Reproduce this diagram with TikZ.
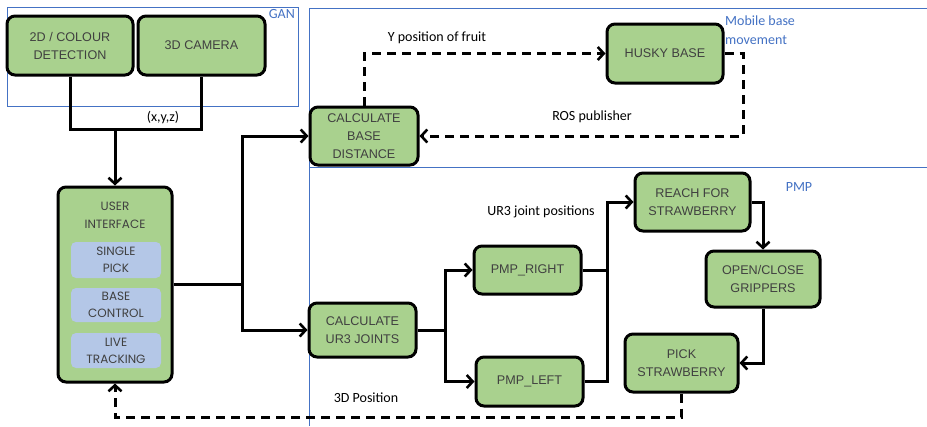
\documentclass[tikz,border=0pt]{standalone}
\usepackage{fontspec}
\setmainfont{Liberation Sans}
\newfontfamily\lblfont{Carlito}
\newfontfamily\uifont{Poppins}
\usetikzlibrary{arrows.meta,calc}
\definecolor{boxgreen}{HTML}{A9D18E}
\definecolor{boxblue}{HTML}{B4C7E7}
\definecolor{frameblue}{HTML}{4472C4}
\definecolor{boxtext}{HTML}{404040}
\begin{document}
\begin{tikzpicture}[x=1pt,y=-1pt,
  gbox/.style={draw=black,line width=3pt,rounded corners=8pt,fill=boxgreen,
    text=boxtext,font=\fontsize{12.6}{18}\selectfont,align=center,inner sep=0pt},
  bbox/.style={fill=boxblue,rounded corners=5pt,text=boxtext,
    font=\uifont\fontsize{12}{17}\selectfont,align=center,inner sep=0pt,
    minimum width=90pt},
  conn/.style={line width=3pt,draw=black},
  tip/.style={-{Straight Barb[length=6pt,width=13pt,line width=2.6pt]}},
  arr/.style={conn,tip},
  dconn/.style={conn,dash pattern=on 9pt off 6pt},
  frame/.style={draw=frameblue,line width=1pt},
  lbl/.style={font=\lblfont\fontsize{14}{16}\selectfont,text=black,inner sep=0pt},
  blbl/.style={font=\lblfont\fontsize{14}{19}\selectfont,text=frameblue,inner sep=0pt,align=left}
]
\useasboundingbox (0,0) rectangle (927,426);
\fill[white] (0,0) rectangle (927,426);
% frames
\draw[frame] (7,7) rectangle (298,106);
\draw[frame] (927,8) -- (309,8) -- (309,426);
\draw[frame] (309,167) -- (927,167);
\node[blbl,anchor=north east] (gan) at (295,9) {GAN};
\node[blbl,anchor=north west] (mob) at (725,16) {Mobile base\\movement};
\node[blbl] (pmp) at (799,187) {PMP};

% boxes
\node[gbox,minimum width=126pt,minimum height=59pt] (det) at (70,45.5) {2D / COLOUR\\DETECTION};
\node[gbox,minimum width=127pt,minimum height=59pt] (cam) at (201.5,45.5) {3D CAMERA};
\node[gbox,minimum width=114pt,minimum height=195pt] (ui) at (115,284.5) {};
\node[text=boxtext,font=\uifont\fontsize{12}{18}\selectfont,align=center] (uit) at (115,215) {USER\\INTERFACE};
\node[bbox,minimum height=36pt] (sp) at (116,260) {SINGLE\\PICK};
\node[bbox,minimum height=34pt] (bc) at (116,305) {BASE\\CONTROL};
\node[bbox,minimum height=35pt] (lt) at (116,350.5) {LIVE\\TRACKING};
\node[gbox,minimum width=108pt,minimum height=58pt] (cbd) at (364,136) {CALCULATE\\BASE\\DISTANCE};
\node[gbox,minimum width=116pt,minimum height=59pt] (husky) at (665,53.5) {HUSKY BASE};
\node[gbox,minimum width=107pt,minimum height=54pt] (ur3) at (362.5,330) {CALCULATE\\UR3 JOINTS};
\node[gbox,minimum width=107pt,minimum height=48pt] (pr) at (527.5,270) {PMP\_RIGHT};
\node[gbox,minimum width=107pt,minimum height=49pt] (pl) at (529.5,381.5) {PMP\_LEFT};
\node[gbox,minimum width=115pt,minimum height=58pt] (reach) at (692.5,202) {REACH FOR\\STRAWBERRY};
\node[gbox,minimum width=114pt,minimum height=56pt] (oc) at (763,279) {OPEN/CLOSE\\GRIPPERS};
\node[gbox,minimum width=113pt,minimum height=58pt] (pick) at (681.5,363) {PICK\\STRAWBERRY};

% labels
\node[lbl] (xyz) at (163,118) {(x,y,z)};
\node[lbl] (ypos) at (437,38) {Y position of fruit};
\node[lbl] (ros) at (592,117) {ROS publisher};
\node[lbl] (ur3j) at (541,212) {UR3 joint positions};
\node[lbl] (pos3d) at (366,398) {3D Position};

% junctions
\coordinate (j1) at (115,129);
\coordinate (j2) at (242,284.5);
\coordinate (h1) at (743,136);
\coordinate (j3) at (445,330);
\coordinate (j4) at (607,270);
\coordinate (b2) at (115,417);

% connectors
\draw[conn] (det.south) |- (j1) -| (cam.south);
\draw[arr] (j1) -- (ui.north);
\draw[conn] (ui.east) -- (j2);
\draw[arr] (j2) |- (cbd.west);
\draw[arr] (j2) |- (ur3.west);
\draw[dconn,tip] (cbd.north) |- (husky.west);
\draw[dconn,tip] (husky.east) -| (h1) -- (cbd.east);
\draw[conn] (ur3.east) -- (j3);
\draw[arr] (j3) |- (pr.west);
\draw[arr] (j3) |- (pl.west);
\draw[conn] (pr.east) -- (j4);
\draw[conn] (pl.east) -| (j4);
\draw[arr] (j4) |- (reach.west);
\draw[arr] (reach.east) -| (oc.north);
\draw[arr] (oc.south) |- (pick.east);
\draw[dconn,tip] (pick.south) |- (b2) -- (ui.south);
\end{tikzpicture}
\end{document}
